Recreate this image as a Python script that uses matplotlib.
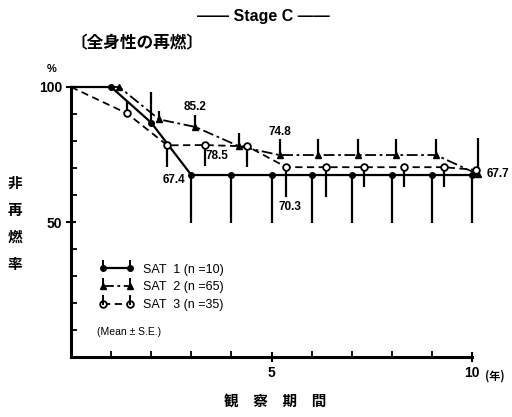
import numpy as np
import matplotlib
matplotlib.use('Agg')
import matplotlib.pyplot as plt
from matplotlib.lines import Line2D
from matplotlib.legend_handler import HandlerLine2D

plt.rcParams['font.family'] = ['Liberation Sans', 'Noto Sans CJK JP', 'DejaVu Sans']

# ---- data (years, % non-relapse) ----
sat1_x = [0, 1, 2, 3, 4, 5, 6, 7, 8, 9, 10]
sat1_y = [100, 100, 86.8, 67.4, 67.4, 67.4, 67.4, 67.4, 67.4, 67.4, 67.4]
sat1_lo = [0, 0, 0, 17.7, 17.7, 17.7, 17.7, 17.7, 17.7, 17.7, 17.7]
sat1_hi = [0, 0, 11.5, 0, 0, 0, 0, 0, 0, 0, 0]

sat2_x = [0, 1.2, 2.2, 3.1, 4.2, 5.2, 6.15, 7.15, 8.1, 9.1, 10.15]
sat2_y = [100, 100, 88.0, 85.2, 78.0, 74.8, 74.8, 74.8, 74.8, 74.8, 67.7]
sat2_lo = [0, 0, 0, 0, 0, 0, 0, 0, 0, 0, 0]
sat2_hi = [0, 0, 3.0, 4.6, 5.0, 6.0, 6.0, 6.0, 6.0, 6.0, 13.3]

sat3_x = [0, 1.4, 2.4, 3.35, 4.4, 5.37, 6.35, 7.3, 8.3, 9.3, 10.1]
sat3_y = [100, 90.2, 78.4, 78.5, 78.0, 70.3, 70.3, 70.3, 70.3, 70.3, 69.3]
sat3_lo = [0, 0, 7.9, 7.9, 7.5, 10.9, 10.9, 7.2, 7.2, 7.2, 0]
sat3_hi = [0, 4.5, 0, 0, 0, 0, 0, 0, 0, 0, 0]

labels = ['SAT  1 (n =10)', 'SAT  2 (n =65)', 'SAT  3 (n =35)']
title = 'Stage C'
subtitle = '〔全身性の再燃〕'
ylabel_chars = ['非', '再', '燃', '率']
xlabel = '観　察　期　間'

fig = plt.figure(figsize=(5.12, 4.17), dpi=100)
ax = fig.add_axes([71/512, 60/417, 401/512, 270/417])
ax.set_xlim(0, 10)
ax.set_ylim(0, 100)

k = 'black'
# error bars
def vbars(x, y, lo, hi):
    for xi, yi, l, h in zip(x, y, lo, hi):
        if l > 0 or h > 0:
            ax.plot([xi, xi], [yi - l, yi + h], color=k, lw=1.6, clip_on=False,
                    solid_capstyle='butt', zorder=2)

vbars(sat1_x, sat1_y, sat1_lo, sat1_hi)
vbars(sat2_x, sat2_y, sat2_lo, sat2_hi)
vbars(sat3_x, sat3_y, sat3_lo, sat3_hi)

l1, = ax.plot(sat1_x, sat1_y, color=k, lw=1.6, ls='-', marker='o', ms=4,
              markevery=list(range(1, len(sat1_x))), clip_on=False, zorder=3)
l2, = ax.plot(sat2_x, sat2_y, color=k, lw=1.3, ls=(0, (6, 2, 1.5, 2)), marker='^', ms=4,
              markevery=list(range(1, len(sat2_x))), clip_on=False, zorder=3)
l3, = ax.plot(sat3_x, sat3_y, color=k, lw=1.3, ls=(0, (4, 2.5)), marker='o', ms=4.8,
              mfc='white', mec=k, mew=1.3,
              markevery=list(range(1, len(sat3_x))), clip_on=False, zorder=4)

# value labels
ann = dict(fontsize=8.5, fontweight='bold', textcoords='offset pixels', ha='center', va='center')
ax.annotate(f'{sat2_y[3]:.1f}', xy=(sat2_x[3], sat2_y[3]), xytext=(0, 20), **ann)
ax.annotate(f'{sat2_y[5]:.1f}', xy=(sat2_x[5], sat2_y[5]), xytext=(0, 23), **ann)
ax.annotate(f'{sat3_y[3]:.1f}', xy=(sat3_x[3], sat3_y[3]), xytext=(12, -11), **ann)
ax.annotate(f'{sat1_y[3]:.1f}', xy=(sat1_x[3], sat1_y[3]), xytext=(-17, -5), **ann)
ax.annotate(f'{sat3_y[5]:.1f}', xy=(sat3_x[5], sat3_y[5]), xytext=(4, -40), **ann)
ann2 = dict(ann); ann2['ha'] = 'left'
ax.annotate(f'{sat2_y[-1]:.1f}', xy=(sat2_x[-1], sat2_y[-1]), xytext=(9, 0), annotation_clip=False, **ann2)

# spines / ticks
for s in ['top', 'right']:
    ax.spines[s].set_visible(False)
for s in ['left', 'bottom']:
    ax.spines[s].set_linewidth(2.2)
ax.set_xticks([5, 10])
ax.set_xticklabels(['5', '10'], fontsize=10, fontweight='bold')
ax.set_xticks([1, 2, 3, 4, 6, 7, 8, 9], minor=True)
ax.set_yticks([50, 100])
ax.set_yticklabels(['50', '100'], fontsize=10, fontweight='bold')
ax.set_yticks([10, 20, 30, 40, 60, 70, 80, 90], minor=True)
ax.tick_params(axis='both', which='major', direction='inout', length=7, width=1.5, pad=3)
ax.tick_params(axis='both', which='minor', direction='in', length=4, width=1.3)

# legend with upward error-bar ticks
class UpBarHandler(HandlerLine2D):
    def create_artists(self, legend, orig_handle, xdescent, ydescent, width, height, fontsize, trans):
        arts = super().create_artists(legend, orig_handle, xdescent, ydescent, width, height, fontsize, trans)
        xdata, xm = self.get_xdata(legend, xdescent, ydescent, width, height, fontsize)
        y0 = (height - ydescent) / 2
        for x in xm:
            ln = Line2D([x, x], [y0, y0 + height * 0.85], color='black', lw=1.4)
            ln.set_transform(trans)
            arts.append(ln)
        return arts

h = UpBarHandler(numpoints=2)
leg = ax.legend([l1, l2, l3], labels, loc='upper left', bbox_to_anchor=(0.07, 0.345),
                frameon=False, fontsize=9, handlelength=2.76, handletextpad=0.76,
                labelspacing=0.45, borderpad=0, borderaxespad=0,
                handler_map={l1: h, l2: h, l3: h})
ax.text(0.065, 0.0926, '(Mean ± S.E.)', transform=ax.transAxes, fontsize=7.5, va='center', ha='left')

# texts
fig.text(263/512, 1 - 17/417, '—— ' + title + ' ——', fontsize=11.5, fontweight='bold', ha='center', va='center')
fig.text(70/512, 1 - 43/417, subtitle, fontsize=12, fontweight='bold', ha='left', va='center',
         family=['Noto Sans CJK JP'])
fig.text(52/512, 1 - 69/417, '%', fontsize=8, fontweight='bold', ha='center', va='center')
for i, ch in enumerate(ylabel_chars):
    fig.text(15/512, 1 - (183 + 27 * i)/417, ch, fontsize=10.5, fontweight='bold', ha='center', va='center',
             family=['Noto Sans CJK JP'])
fig.text(275/512, 1 - 401/417, xlabel, fontsize=10.5, fontweight='bold', ha='center', va='center',
         family=['Noto Sans CJK JP'])
fig.text(485/512, 1 - 376/417, '(年)', fontsize=8, fontweight='bold', ha='left', va='center',
         family=['Noto Sans CJK JP'])

fig.savefig('out.png', dpi=100)
